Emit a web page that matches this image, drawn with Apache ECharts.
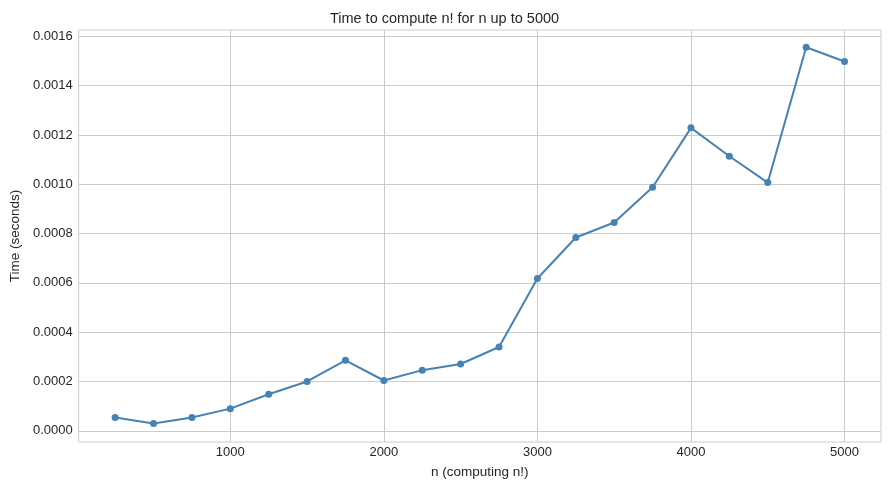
<!DOCTYPE html>
<html><head><meta charset="utf-8">
<script src="https://cdn.jsdelivr.net/npm/echarts@6/dist/echarts.min.js"></script>
<style>html,body{margin:0;padding:0;background:#fff}#c{width:889px;height:490px}</style>
</head><body><div id="c"></div>
<script>
const nValues = [250,500,750,1000,1250,1500,1750,2000,2250,2500,2750,3000,3250,3500,3750,4000,4250,4500,4750,5000];
const timeValues = [0.0000543,0.0000298,0.0000535,0.0000898,0.000148,0.0002,0.000286,0.000204,0.000246,0.000271,0.00034,0.000618,0.000784,0.000845,0.000988,0.001229,0.001114,0.001007,0.001556,0.001498];
const xTicks = [1000,2000,3000,4000,5000];
const yTicks = [0,0.0002,0.0004,0.0006,0.0008,0.0010,0.0012,0.0014,0.0016];
const titleText = 'Time to compute n! for n up to 5000';
const xName = 'n (computing n!)';
const yName = 'Time (seconds)';

const font = 'Liberation Sans, Arial, sans-serif';
const chart = echarts.init(document.getElementById('c'), null, {renderer:'canvas'});
chart.setOption({
  animation:false,
  title:{text:titleText,left:'center',top:6,textStyle:{fontFamily:font,fontSize:14.5,fontWeight:'normal',color:'#262626'}},
  grid:{left:77,right:8,top:30,bottom:48,show:true,borderColor:'#cccccc',borderWidth:1},
  xAxis:{type:'value',min:12.5,max:5237.5,
    name:xName,nameLocation:'middle',nameGap:23,nameTextStyle:{fontFamily:font,fontSize:13.5,color:'#262626'},
    axisLine:{show:false},
    axisTick:{show:false,customValues:xTicks},
    axisLabel:{customValues:xTicks,fontFamily:font,fontSize:13,color:'#262626',margin:4,formatter:v=>String(v)},
    splitLine:{show:true,lineStyle:{color:'#cccccc',width:1}}},
  yAxis:{type:'value',min:-0.0000455,max:0.001626,
    name:yName,nameLocation:'middle',nameGap:54,nameRotate:90,nameTextStyle:{fontFamily:font,fontSize:13.5,color:'#262626'},
    axisLine:{show:false},
    axisTick:{show:false,customValues:yTicks},
    axisLabel:{customValues:yTicks,fontFamily:font,fontSize:13,color:'#262626',margin:6,formatter:v=>v.toFixed(4)},
    splitLine:{show:true,lineStyle:{color:'#cccccc',width:1}}},
  series:[{type:'line',data:nValues.map((n,i)=>[n,timeValues[i]]),
    lineStyle:{color:'#4682b4',width:2},itemStyle:{color:'#4682b4'},
    symbol:'circle',symbolSize:7,showAllSymbol:true}]
});
</script></body></html>
